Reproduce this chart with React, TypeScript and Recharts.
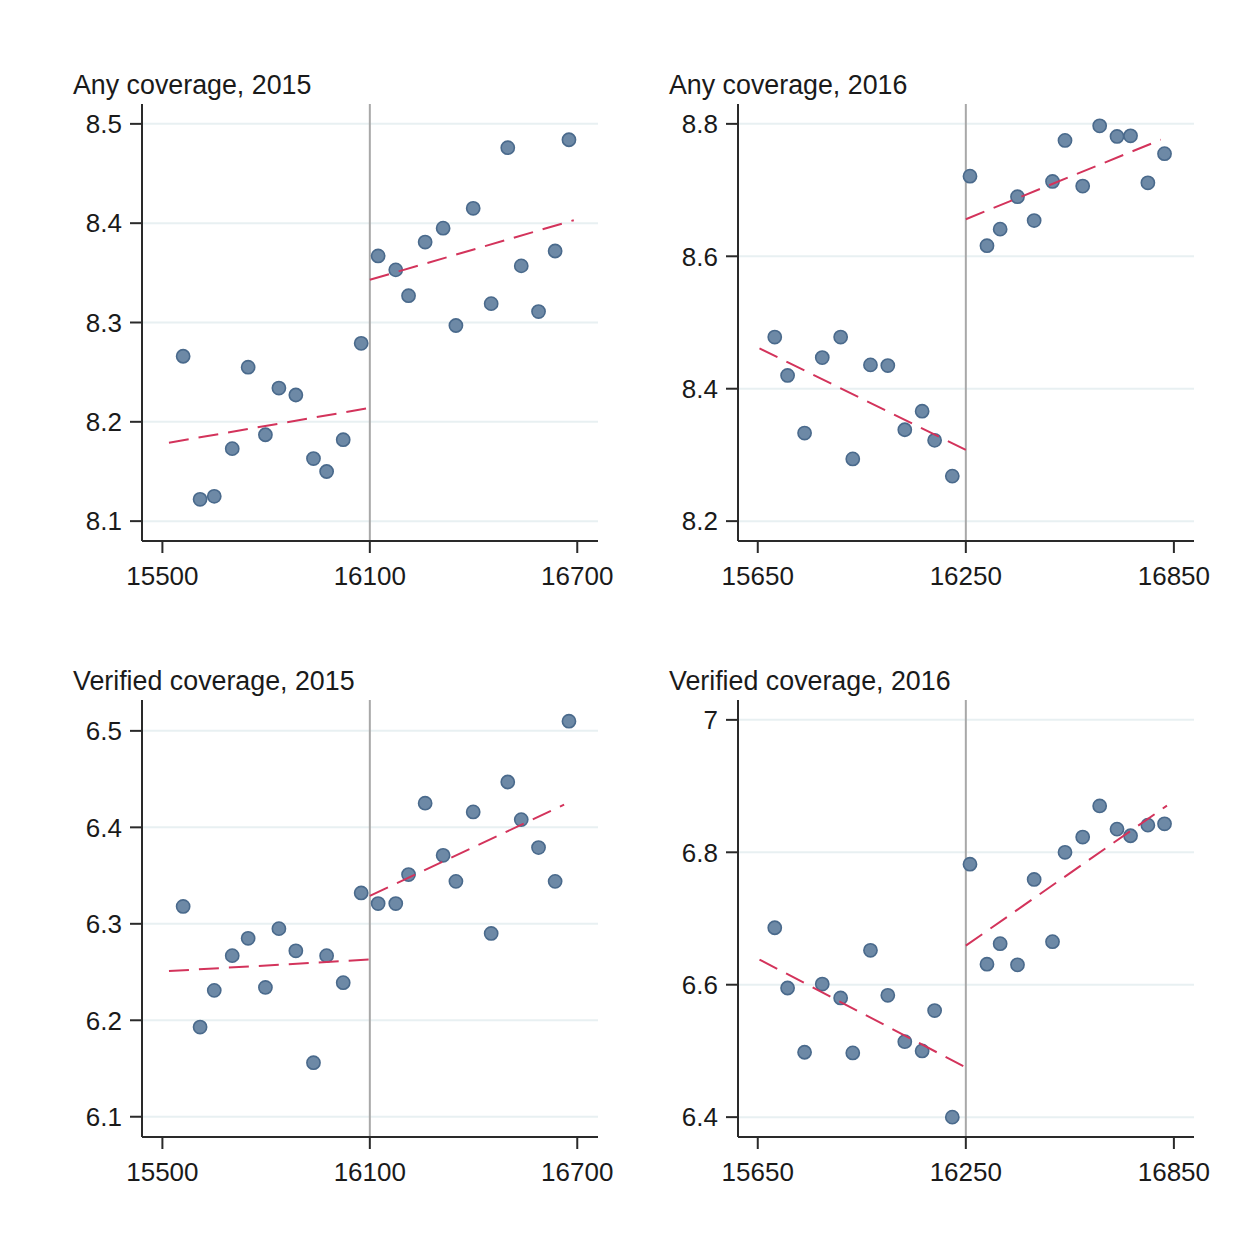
import React from 'react';
import { ScatterChart, Scatter, XAxis, YAxis, ReferenceLine } from 'recharts';

// ---------- data ----------
const x2015 = [15560, 15609, 15650, 15702, 15748, 15798, 15837, 15886, 15937, 15975, 16023, 16075, 16124, 16175, 16212, 16260, 16312, 16349, 16399, 16451, 16499, 16538, 16588, 16636, 16676];
const any2015 = [8.266, 8.122, 8.125, 8.173, 8.255, 8.187, 8.234, 8.227, 8.163, 8.150, 8.182, 8.279, 8.367, 8.353, 8.327, 8.381, 8.395, 8.297, 8.415, 8.319, 8.476, 8.357, 8.311, 8.372, 8.484];
const ver2015 = [6.318, 6.193, 6.231, 6.267, 6.285, 6.234, 6.295, 6.272, 6.156, 6.267, 6.239, 6.332, 6.321, 6.321, 6.351, 6.425, 6.371, 6.344, 6.416, 6.290, 6.447, 6.408, 6.379, 6.344, 6.510];

const x2016 = [15699, 15736, 15785, 15836, 15889, 15924, 15975, 16025, 16074, 16124, 16160, 16211, 16262, 16311, 16349, 16399, 16447, 16500, 16536, 16587, 16636, 16686, 16725, 16775, 16823];
const any2016 = [8.478, 8.420, 8.333, 8.447, 8.478, 8.294, 8.436, 8.435, 8.338, 8.366, 8.322, 8.268, 8.721, 8.616, 8.641, 8.690, 8.654, 8.713, 8.775, 8.706, 8.797, 8.781, 8.782, 8.711, 8.755];
const ver2016 = [6.686, 6.595, 6.498, 6.601, 6.580, 6.497, 6.652, 6.584, 6.514, 6.500, 6.561, 6.400, 6.782, 6.631, 6.662, 6.630, 6.759, 6.665, 6.800, 6.823, 6.870, 6.835, 6.825, 6.841, 6.843];

// fitted line endpoints [x, y]
const fitAny2015Left = [[15519, 8.179], [16100, 8.214]];
const fitAny2015Right = [[16100, 8.343], [16690, 8.403]];
const fitVer2015Left = [[15519, 6.251], [16100, 6.263]];
const fitVer2015Right = [[16100, 6.329], [16662, 6.4235]];
const fitAny2016Left = [[15655, 8.461], [16250, 8.3075]];
const fitAny2016Right = [[16250, 8.656], [16812, 8.776]];
const fitVer2016Left = [[15655, 6.638], [16250, 6.475]];
const fitVer2016Right = [[16250, 6.659], [16830, 6.8705]];

const titles = ['Any coverage, 2015', 'Any coverage, 2016', 'Verified coverage, 2015', 'Verified coverage, 2016'];
const xTicks2015 = [15500, 16100, 16700];
const xTicks2016 = [15650, 16250, 16850];
const yTicksAny2015 = [8.1, 8.2, 8.3, 8.4, 8.5];
const yTicksAny2016 = [8.2, 8.4, 8.6, 8.8];
const yTicksVer2015 = [6.1, 6.2, 6.3, 6.4, 6.5];
const yTicksVer2016 = [6.4, 6.6, 6.8, 7];
const cutoffs = [16100, 16250];

// ---------- styling ----------
const FONT = '"Liberation Sans", Arial, Helvetica, sans-serif';
const TEXT = '#1a1a1a';
const AXIS = '#2a2a2a';
const GRID = '#e8f0f2';
const DOT_FILL = '#6d89a6';
const DOT_STROKE = '#4a6a8c';
const FIT = '#d3335b';
const CUT = '#a8a8a8';

const PLOT_W = 456;
const PLOT_H = 437;
const Y_W = 100;
const X_H = 70;
const R_M = 60;

const toPts = (xs: number[], ys: number[]) => xs.map((x, i) => ({ x, y: ys[i] }));
const toLine = (p: number[][]) => p.map(([x, y]) => ({ x, y }));

const Dot = (props: any) => {
  const { cx, cy } = props;
  if (cx == null || cy == null) return <g />;
  return <circle cx={cx} cy={cy} r={6.6} fill={DOT_FILL} stroke={DOT_STROKE} strokeWidth={1.6} />;
};
const NoShape = () => <g />;

type PanelDef = {
  title: string;
  pts: { x: number; y: number }[];
  fitL: { x: number; y: number }[];
  fitR: { x: number; y: number }[];
  xDomain: [number, number];
  xTicks: number[];
  yDomain: [number, number];
  yTicks: number[];
  cutoff: number;
  plotLeft: number;
  plotTop: number;
};

const panels: PanelDef[] = [
  {
    title: titles[0], pts: toPts(x2015, any2015), fitL: toLine(fitAny2015Left), fitR: toLine(fitAny2015Right),
    xDomain: [15441, 16760], xTicks: xTicks2015, yDomain: [8.08, 8.52], yTicks: yTicksAny2015, cutoff: cutoffs[0],
    plotLeft: 142, plotTop: 104,
  },
  {
    title: titles[1], pts: toPts(x2016, any2016), fitL: toLine(fitAny2016Left), fitR: toLine(fitAny2016Right),
    xDomain: [15593, 16908], xTicks: xTicks2016, yDomain: [8.17, 8.83], yTicks: yTicksAny2016, cutoff: cutoffs[1],
    plotLeft: 738, plotTop: 104,
  },
  {
    title: titles[2], pts: toPts(x2015, ver2015), fitL: toLine(fitVer2015Left), fitR: toLine(fitVer2015Right),
    xDomain: [15441, 16760], xTicks: xTicks2015, yDomain: [6.079, 6.532], yTicks: yTicksVer2015, cutoff: cutoffs[0],
    plotLeft: 142, plotTop: 700,
  },
  {
    title: titles[3], pts: toPts(x2016, ver2016), fitL: toLine(fitVer2016Left), fitR: toLine(fitVer2016Right),
    xDomain: [15593, 16908], xTicks: xTicks2016, yDomain: [6.37, 7.03], yTicks: yTicksVer2016, cutoff: cutoffs[1],
    plotLeft: 738, plotTop: 700,
  },
];

const tickStyle = { fill: TEXT, fontSize: 26, fontFamily: FONT };
const lineStyle = { stroke: FIT, strokeWidth: 2, strokeDasharray: '20 10' };

function Panel({ p }: { p: PanelDef }) {
  return (
    <>
      <div
        style={{
          position: 'absolute',
          left: p.plotLeft - 69,
          top: p.plotTop - 32,
          fontFamily: FONT,
          fontSize: 26.8,
          lineHeight: '26px',
          color: TEXT,
          whiteSpace: 'nowrap',
        }}
      >
        {p.title}
      </div>
      <div style={{ position: 'absolute', left: p.plotLeft - Y_W, top: p.plotTop }}>
        <ScatterChart width={Y_W + PLOT_W + R_M} height={PLOT_H + X_H} margin={{ top: 0, right: R_M, bottom: 0, left: 0 }}>
          <XAxis
            type="number"
            dataKey="x"
            domain={p.xDomain}
            ticks={p.xTicks}
            interval={0}
            height={X_H}
            tick={tickStyle}
            tickSize={12}
            tickMargin={14}
            axisLine={{ stroke: AXIS, strokeWidth: 2 }}
            tickLine={{ stroke: AXIS, strokeWidth: 2 }}
            allowDataOverflow
          />
          <YAxis
            type="number"
            dataKey="y"
            domain={p.yDomain}
            ticks={p.yTicks}
            interval={0}
            width={Y_W}
            tick={tickStyle}
            tickSize={12}
            tickMargin={8}
            axisLine={{ stroke: AXIS, strokeWidth: 2 }}
            tickLine={{ stroke: AXIS, strokeWidth: 2 }}
            allowDataOverflow
          />
          {p.yTicks.map((t) => (
            <ReferenceLine key={t} y={t} stroke={GRID} strokeWidth={2} />
          ))}
          <ReferenceLine x={p.cutoff} stroke={CUT} strokeWidth={2} />
          <Scatter data={p.pts} shape={Dot} isAnimationActive={false} />
          <Scatter data={p.fitL} shape={NoShape} line={lineStyle} fill={FIT} isAnimationActive={false} />
          <Scatter data={p.fitR} shape={NoShape} line={lineStyle} fill={FIT} isAnimationActive={false} />
        </ScatterChart>
      </div>
    </>
  );
}

export default function App() {
  return (
    <div style={{ position: 'absolute', left: 0, top: 0, width: 1251, height: 1250, background: '#ffffff', overflow: 'hidden' }}>
      {panels.map((p, i) => (
        <Panel key={i} p={p} />
      ))}
    </div>
  );
}
